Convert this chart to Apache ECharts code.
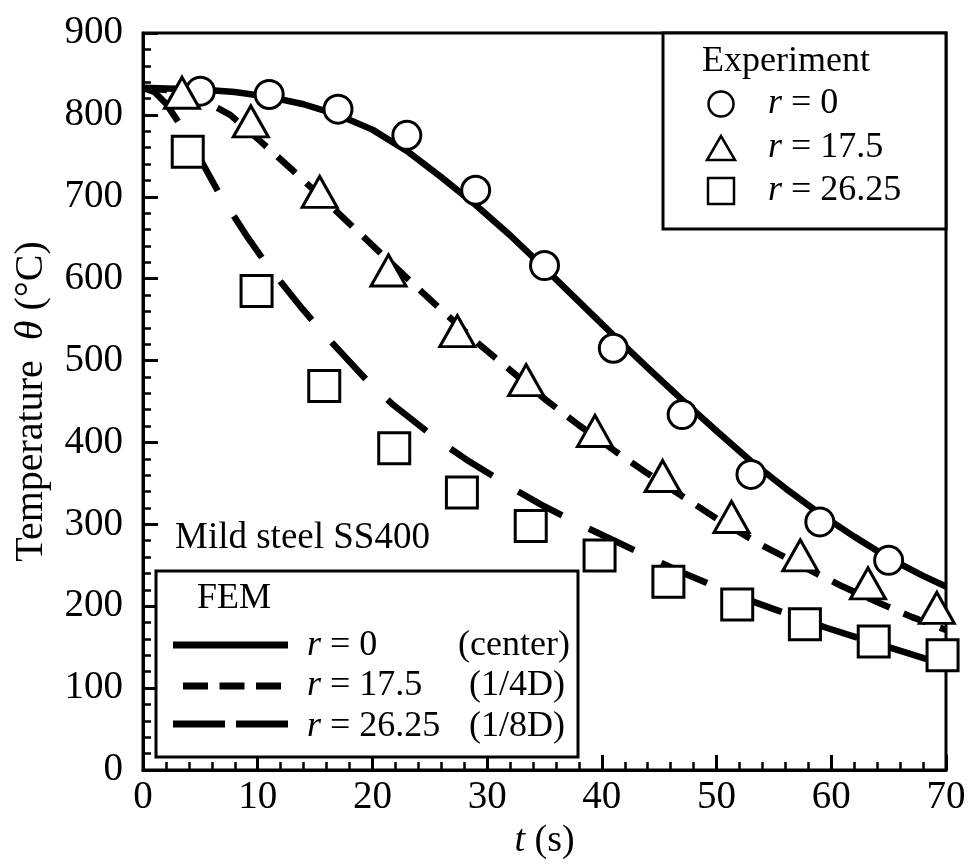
<!DOCTYPE html>
<html>
<head>
<meta charset="utf-8">
<script src="https://cdn.jsdelivr.net/npm/echarts@6/dist/echarts.min.js"></script>
<style>
html,body{margin:0;padding:0;background:#fff;}
#chart{width:970px;height:868px;}
</style>
</head>
<body>
<div id="chart"></div>
<script>
// ---- Data ----
// Experiment markers
const expT0 = [5, 11, 17, 23, 29, 35, 41, 47, 53, 59, 65];
const expV0 = [829, 825, 807, 775, 708, 616, 515, 434, 361, 303, 256];
const expT1 = [3.4, 9.4, 15.4, 21.4, 27.4, 33.4, 39.4, 45.3, 51.3, 57.3, 63.2, 69.2];
const expV1 = [827, 792, 706, 610, 536, 476, 414, 359, 309, 262, 228, 198];
const expT2 = [3.9, 9.9, 15.8, 21.9, 27.8, 33.8, 39.8, 45.8, 51.8, 57.7, 63.7, 69.7];
const expV2 = [755, 585, 469, 393, 339, 298, 262, 230, 202, 178, 157, 140];
// FEM curves
const femT0 = [0, 5, 8, 11, 14, 17, 20, 23, 26, 29, 32, 35, 38, 41, 44, 47, 50, 53, 56, 59, 62, 65, 68, 70];
const femV0 = [833, 831, 828, 822, 813, 800, 782, 756, 724, 690, 653, 613, 572, 531, 491, 452, 414, 377, 344, 313, 285, 259, 237, 224];
const femT1 = [0, 3, 5, 7.6, 10.3, 13, 16.8, 19.3, 23, 25.6, 29.3, 31.7, 35.2, 38, 41.3, 44, 47.6, 50, 54, 58, 61, 64, 67, 70];
const femV1 = [833, 829, 820, 800, 767, 733, 683, 650, 601, 567, 520, 492, 451, 421, 388, 362, 329, 307, 274, 245, 224, 205, 187, 171];
const femT2 = [0, 1, 2, 3, 4, 6.6, 9, 10.8, 13.9, 15.8, 19.5, 21.8, 25.8, 28.2, 32.1, 34.7, 38.5, 41.1, 44.7, 47.2, 50.4, 53.3, 56.5, 59.5, 62.4, 65.9, 68.4, 70];
const femV2 = [833, 828, 814, 793, 771, 705, 653, 617, 563, 532, 476, 446, 402, 379, 345, 324, 297, 280, 256, 240, 221, 205, 189, 174, 161, 146, 135, 128];
// Labels
const expLabels = ['r = 0', 'r = 17.5', 'r = 26.25'];
const femLabels = ['r = 0', 'r = 17.5', 'r = 26.25'];
const femNotes = ['(center)', '(1/4D)', '(1/8D)'];

const zip = (a, b) => a.map((v, i) => [v, b[i]]);
const FF = '"Liberation Serif", "Times New Roman", serif';
const rTxt = s => s.replace(/^r/, '{i|r}');
const richI = { i: { fontStyle: 'italic', fontFamily: FF, fontSize: 36, fill: '#000' } };

const chart = echarts.init(document.getElementById('chart'), null, { renderer: 'canvas' });

function lineSeries(name, t, v, dash) {
  return {
    name, type: 'line', data: zip(t, v), showSymbol: false, symbol: 'none',
    smooth: false,
    lineStyle: { color: '#000', width: 6.5, type: dash, cap: 'butt', join: 'round' },
    z: 2, silent: true
  };
}
function scatterSeries(name, t, v, symbol, size) {
  return {
    name, type: 'scatter', data: zip(t, v), symbol, symbolSize: size,
    itemStyle: { color: '#fff', borderColor: '#000', borderWidth: 3, opacity: 1 },
    z: 5, silent: true
  };
}

const txt = (x, y, text, size, extra) => ({
  type: 'text', z: 100,
  style: Object.assign({ x, y, text, font: size + 'px ' + FF, fill: '#000', verticalAlign: 'middle', align: 'left', rich: richI }, extra || {})
});

const option = {
  animation: false,
  backgroundColor: '#fff',
  grid: { left: 143, right: 24, top: 33, bottom: 98, show: true, borderColor: '#000', borderWidth: 3, backgroundColor: 'transparent' },
  xAxis: {
    type: 'value', min: 0, max: 70, interval: 10,
    axisLine: { show: true, lineStyle: { color: '#000', width: 3 } },
    axisTick: { show: true, inside: true, length: 15, lineStyle: { color: '#000', width: 3 } },
    minorTick: { show: true, splitNumber: 5, length: 8, lineStyle: { color: '#000', width: 2.5 } },
    splitLine: { show: false },
    axisLabel: { color: '#000', fontFamily: FF, fontSize: 39, margin: 8 },
    name: '{i|t} (s)', nameLocation: 'middle', nameGap: 52,
    nameTextStyle: { color: '#000', fontFamily: FF, fontSize: 38,
      rich: { i: { fontStyle: 'italic', fontFamily: FF, fontSize: 38, color: '#000' } } }
  },
  yAxis: {
    type: 'value', min: 0, max: 900, interval: 100,
    axisLine: { show: true, lineStyle: { color: '#000', width: 3 } },
    axisTick: { show: true, inside: true, length: 15, lineStyle: { color: '#000', width: 3 } },
    minorTick: { show: true, splitNumber: 5, length: 8, lineStyle: { color: '#000', width: 2.5 } },
    splitLine: { show: false },
    axisLabel: { color: '#000', fontFamily: FF, fontSize: 39, margin: 20 },
    name: '{a|Temperature  }{b|θ}{a| (°C)}', nameLocation: 'middle', nameGap: 92, nameRotate: 90,
    nameTextStyle: { color: '#000', fontFamily: FF, fontSize: 40,
      rich: { a: { fontFamily: FF, fontSize: 40, color: '#000' },
              b: { fontStyle: 'italic', fontFamily: FF, fontSize: 40, color: '#000' } } }
  },
  series: [
    lineSeries('FEM r=0', femT0, femV0, 'solid'),
    lineSeries('FEM r=17.5', femT1, femV1, [24, 15]),
    lineSeries('FEM r=26.25', femT2, femV2, [50, 30]),
    scatterSeries('Exp r=0', expT0, expV0, 'circle', 28),
    scatterSeries('Exp r=17.5', expT1, expV1, 'triangle', [35, 31]),
    scatterSeries('Exp r=26.25', expT2, expV2, 'rect', 31)
  ],
  graphic: [
    // Experiment legend box
    { type: 'rect', z: 90, shape: { x: 663, y: 33, width: 283, height: 196 }, style: { fill: '#fff', stroke: '#000', lineWidth: 3 } },
    txt(702, 62, 'Experiment', 36),
    { type: 'circle', z: 100, shape: { cx: 721, cy: 104, r: 12.5 }, style: { fill: '#fff', stroke: '#000', lineWidth: 2.5 } },
    { type: 'polygon', z: 100, shape: { points: [[721, 136], [707, 160], [735, 160]] }, style: { fill: '#fff', stroke: '#000', lineWidth: 2.5 } },
    { type: 'rect', z: 100, shape: { x: 708, y: 178, width: 26, height: 26 }, style: { fill: '#fff', stroke: '#000', lineWidth: 2.5 } },
    txt(768, 104, rTxt(expLabels[0]), 36),
    txt(768, 148, rTxt(expLabels[1]), 36),
    txt(768, 191, rTxt(expLabels[2]), 36),
    // Material label
    txt(175, 538, 'Mild steel SS400', 37),
    // FEM legend box
    { type: 'rect', z: 90, shape: { x: 156, y: 571, width: 422, height: 186 }, style: { fill: '#fff', stroke: '#000', lineWidth: 3 } },
    txt(197, 599, 'FEM', 36),
    { type: 'line', z: 100, shape: { x1: 173, y1: 645, x2: 288, y2: 645 }, style: { stroke: '#000', lineWidth: 7 } },
    { type: 'line', z: 100, shape: { x1: 183, y1: 686, x2: 281, y2: 686 }, style: { stroke: '#000', lineWidth: 7, lineDash: [25, 11.5] } },
    { type: 'line', z: 100, shape: { x1: 173, y1: 724, x2: 289, y2: 724 }, style: { stroke: '#000', lineWidth: 7, lineDash: [52, 11] } },
    txt(307, 646, rTxt(femLabels[0]), 36),
    txt(307, 686, rTxt(femLabels[1]), 36),
    txt(307, 727, rTxt(femLabels[2]), 36),
    txt(570, 646, femNotes[0], 36, { align: 'right' }),
    txt(565, 686, femNotes[1], 36, { align: 'right' }),
    txt(565, 727, femNotes[2], 36, { align: 'right' })
  ]
};
chart.setOption(option);
</script>
</body>
</html>
